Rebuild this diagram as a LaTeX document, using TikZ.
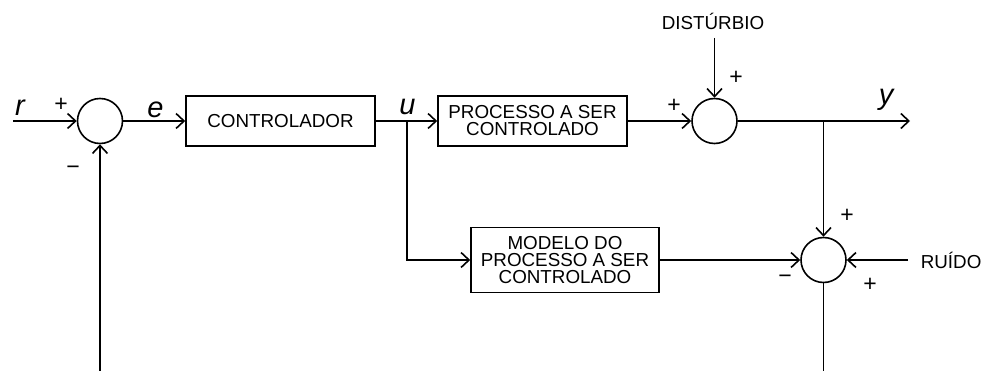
\documentclass[tikz,border=0pt]{standalone}
\usepackage{fontspec}
\setmainfont{Liberation Sans}
\usetikzlibrary{arrows.meta,positioning}

\begin{document}
\begin{tikzpicture}[
        x=1pt, y=-1pt,
        font=\fontsize{18.8}{17}\selectfont,
        line width=1.6pt,
        >={Straight Barb[length=8pt,width=15pt]},
        bloco/.style={
            rectangle,
            draw,
            minimum width=189pt,
            minimum height=50pt,
            align=center,
            inner sep=2pt
        },
        soma/.style={circle, draw, minimum size=45pt, inner sep=0pt},
        sinal/.style={font=\fontsize{29}{29}\selectfont\itshape, inner sep=0pt},
        sgn/.style={font=\fontsize{23}{23}\selectfont, inner sep=0pt},
        lig/.style={->},
    ]

        \useasboundingbox (0,0) rectangle (987,371);

        \def\ylin{121}
        \def\ymod{260}

        % blocos e somadores
        \node[soma] (sumErro) at (100,\ylin) {};
        \node[bloco] (controlador) at (280.5,\ylin) {CONTROLADOR};
        \node[bloco] (processo) at (532.5,\ylin) {PROCESSO A SER\\CONTROLADO};
        \node[soma] (sumDist) at (714.5,\ylin) {};
        \node[bloco, minimum width=188pt, minimum height=65pt] (modelo) at (565,\ymod)
            {MODELO DO\\PROCESSO A SER\\CONTROLADO};
        \node[soma] (sumRuido) at (823.5,\ymod) {};

        % entradas externas
        \node (disturbio) at (713,21) {DISTÚRBIO};
        \node[anchor=west, inner sep=0pt] (ruido) at (920,\ymod) {RUÍDO};

        \coordinate (rIn) at (13,\ylin);
        \coordinate (uJunc) at (407,\ylin);
        \coordinate (yJunc) at (823.5,\ylin);
        \coordinate (yOut) at (910,\ylin);
        \coordinate (distIn) at (714.5,38);
        \coordinate (ruidoIn) at (908,\ymod);
        \coordinate (fbBot) at (100,371);
        \coordinate (resBot) at (823.5,371);

        % ligacoes
        \draw[lig] (rIn) -- (sumErro);
        \draw[lig] (sumErro) -- (controlador);
        \draw[lig] (controlador) -- (processo);
        \draw[lig] (processo) -- (sumDist);
        \draw[lig] (distIn) -- (sumDist);
        \draw[lig] (sumDist) -- (yOut);
        \draw[lig] (uJunc) |- (modelo);
        \draw[lig] (modelo) -- (sumRuido);
        \draw[lig] (yJunc) -- (sumRuido);
        \draw[lig] (ruidoIn) -- (sumRuido);
        \draw[lig] (fbBot) -- (sumErro);
        \draw (sumRuido) -- (resBot);

        % sinais
        \node[sinal] (rLab) at (20,107.5) {r};
        \node[sinal] (eLab) at (155.5,109.5) {e};
        \node[sinal] (uLab) at (407.5,106.5) {u};
        \node[sinal] (yLab) at (886,99.5) {y};

        \node[sgn] (s1) at (61,104.5) {+};
        \node[sgn] (s2) at (73,170) {−};
        \node[sgn] (s3) at (736,78) {+};
        \node[sgn] (s4) at (674,106) {+};
        \node[sgn] (s5) at (847,216) {+};
        \node[sgn] (s6) at (785,279) {−};
        \node[sgn] (s7) at (870,285) {+};

    \end{tikzpicture}
\end{document}
